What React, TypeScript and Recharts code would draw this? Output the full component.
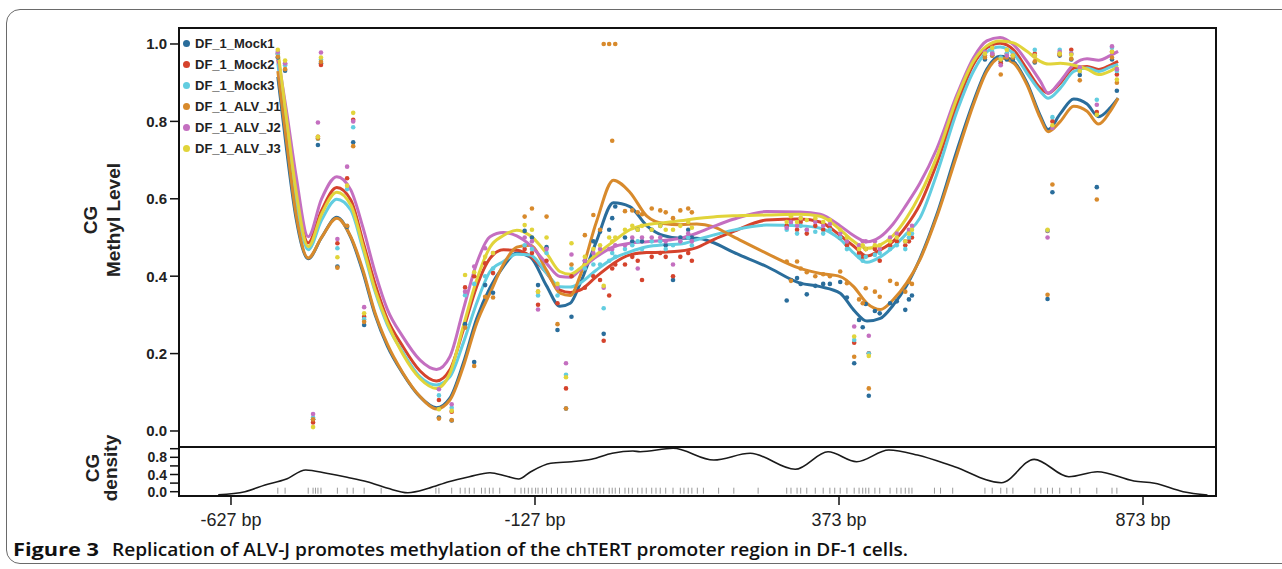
import React from "react";
import { ComposedChart, Line, Scatter, XAxis, YAxis } from "recharts";

// ---------- data ----------
const seriesNames = ["DF_1_Mock1", "DF_1_Mock2", "DF_1_Mock3", "DF_1_ALV_J1", "DF_1_ALV_J2", "DF_1_ALV_J3"];
const seriesKeys = ["mock1", "mock2", "mock3", "alv1", "alv2", "alv3"];
const seriesColors = ["#2a6d9b", "#d5432c", "#62cde0", "#d88a2c", "#c46fc0", "#e1d43a"];

// smoothed curve positions (bp)
const curveX = [-550, -535, -520, -500, -478, -453, -430, -410, -390, -370, -345, -316, -289, -267, -245, -223, -201, -179, -157, -135, -108, -86, -69, -53, -26, 2, 29, 57, 84, 112, 139, 166, 199, 254, 309, 342, 375, 397, 419, 441, 462, 484, 506, 534, 567, 594, 616, 638, 660, 682, 704, 717, 737, 759, 781, 800, 819, 832];
const curveMock1 = [0.915, 0.72, 0.55, 0.445, 0.5, 0.552, 0.5, 0.41, 0.3, 0.22, 0.15, 0.088, 0.06, 0.085, 0.175, 0.29, 0.37, 0.425, 0.46, 0.45, 0.375, 0.322, 0.33, 0.38, 0.49, 0.59, 0.58, 0.53, 0.505, 0.498, 0.498, 0.487, 0.462, 0.425, 0.382, 0.373, 0.356, 0.313, 0.284, 0.291, 0.325, 0.375, 0.445, 0.56, 0.725, 0.85, 0.935, 0.968, 0.955, 0.9, 0.815, 0.779, 0.82, 0.858, 0.845, 0.812, 0.835, 0.86];
const curveMock2 = [0.96, 0.79, 0.62, 0.486, 0.57, 0.629, 0.597, 0.49, 0.38, 0.29, 0.22, 0.155, 0.129, 0.158, 0.261, 0.373, 0.446, 0.468, 0.467, 0.452, 0.408, 0.364, 0.358, 0.364, 0.399, 0.433, 0.455, 0.461, 0.462, 0.465, 0.474, 0.494, 0.515, 0.545, 0.548, 0.54, 0.505, 0.478, 0.452, 0.468, 0.49, 0.53, 0.585, 0.692, 0.843, 0.947, 0.99, 1.002, 0.985, 0.935, 0.886, 0.873, 0.899, 0.938, 0.942, 0.934, 0.945, 0.955];
const curveMock3 = [0.95, 0.77, 0.6, 0.468, 0.545, 0.599, 0.571, 0.47, 0.36, 0.275, 0.205, 0.14, 0.119, 0.14, 0.227, 0.33, 0.412, 0.438, 0.457, 0.455, 0.408, 0.373, 0.372, 0.382, 0.416, 0.446, 0.463, 0.476, 0.481, 0.483, 0.494, 0.506, 0.519, 0.532, 0.53, 0.524, 0.495, 0.46, 0.436, 0.45, 0.475, 0.51, 0.55, 0.665, 0.826, 0.929, 0.98, 0.992, 0.975, 0.925, 0.878, 0.86, 0.886, 0.929, 0.938, 0.929, 0.94, 0.947];
const curveAlv1 = [0.93, 0.74, 0.56, 0.447, 0.5, 0.55, 0.502, 0.416, 0.305, 0.225, 0.152, 0.089, 0.057, 0.08, 0.166, 0.278, 0.356, 0.43, 0.475, 0.48, 0.415, 0.356, 0.35, 0.4, 0.54, 0.648, 0.617, 0.555, 0.536, 0.533, 0.535, 0.528, 0.502, 0.459, 0.42, 0.407, 0.399, 0.373, 0.33, 0.314, 0.339, 0.382, 0.442, 0.554, 0.714, 0.843, 0.929, 0.964, 0.951, 0.895, 0.809, 0.773, 0.8, 0.839, 0.826, 0.793, 0.826, 0.86];
const curveAlv2 = [0.97, 0.82, 0.66, 0.502, 0.6, 0.657, 0.623, 0.526, 0.41, 0.315, 0.245, 0.183, 0.159, 0.192, 0.313, 0.433, 0.502, 0.513, 0.504, 0.48, 0.433, 0.399, 0.397, 0.416, 0.45, 0.476, 0.485, 0.489, 0.492, 0.498, 0.511, 0.528, 0.547, 0.567, 0.566, 0.56, 0.53, 0.505, 0.489, 0.502, 0.535, 0.585, 0.64, 0.73, 0.869, 0.964, 1.008, 1.017, 0.998, 0.955, 0.904, 0.873, 0.904, 0.947, 0.962, 0.958, 0.97, 0.981];
const curveAlv3 = [0.985, 0.8, 0.62, 0.476, 0.56, 0.617, 0.584, 0.478, 0.365, 0.28, 0.2, 0.135, 0.11, 0.149, 0.27, 0.39, 0.475, 0.505, 0.519, 0.505, 0.459, 0.412, 0.405, 0.42, 0.456, 0.49, 0.52, 0.533, 0.538, 0.543, 0.549, 0.553, 0.556, 0.558, 0.56, 0.555, 0.52, 0.49, 0.472, 0.481, 0.505, 0.55, 0.61, 0.709, 0.86, 0.955, 0.995, 1.008, 1.003, 0.981, 0.955, 0.948, 0.95, 0.945, 0.935, 0.921, 0.93, 0.942];

// per-CpG methylation dots (bp)
const cpgX = [-550, -538, -492, -484, -479, -452, -436, -426, -408, -285, -264, -242, -227, -209, -196, -144, -132, -122, -108, -90, -76, -67, -45, -31, -20, -14, -5, 0, 5, 21, 33, 42, 49, 65, 79, 88, 100, 112, 125, 131, 287, 294, 304, 310, 320, 334, 347, 358, 375, 386, 398, 406, 412, 417, 422, 432, 440, 457, 468, 482, 488, 493, 613, 625, 639, 649, 659, 695, 716, 724, 736, 755, 769, 797, 822, 830];
const dotsMock1 = [0.965, 0.931, 0.03, 0.739, 0.95, 0.425, 0.528, 0.746, 0.274, 0.035, 0.027, 0.276, 0.178, 0.377, 0.357, 0.517, 0.5, 0.377, 0.475, 0.261, 0.058, 0.295, 0.44, 0.49, 0.515, 0.251, 0.52, 0.55, 0.58, 0.5, 0.49, 0.52, 0.49, 0.52, 0.53, 0.48, 0.39, 0.5, 0.52, 0.5, 0.337, 0.39, 0.395, 0.38, 0.353, 0.375, 0.38, 0.38, 0.385, 0.345, 0.175, 0.287, 0.268, 0.328, 0.091, 0.31, 0.304, 0.33, 0.335, 0.313, 0.34, 0.35, 0.96, 0.97, 0.955, 0.96, 0.96, 0.952, 0.341, 0.617, 0.97, 0.96, 0.92, 0.63, 0.96, 0.879];
const dotsMock2 = [0.975, 0.948, 0.022, 0.76, 0.946, 0.485, 0.653, 0.804, 0.295, 0.08, 0.05, 0.371, 0.4, 0.433, 0.408, 0.47, 0.46, 0.326, 0.44, 0.33, 0.11, 0.4, 0.37, 0.4, 0.39, 0.233, 0.35, 0.42, 0.43, 0.43, 0.45, 0.44, 0.39, 0.45, 0.46, 0.45, 0.4, 0.45, 0.46, 0.44, 0.53, 0.545, 0.52, 0.54, 0.51, 0.53, 0.52, 0.525, 0.5, 0.48, 0.228, 0.46, 0.45, 0.47, 0.201, 0.47, 0.44, 0.48, 0.49, 0.48, 0.49, 0.5, 0.97, 0.975, 0.95, 0.975, 0.97, 0.975, 0.517, 0.8, 0.975, 0.985, 0.93, 0.824, 0.98, 0.921];
const dotsMock3 = [0.975, 0.945, 0.035, 0.755, 0.96, 0.472, 0.625, 0.785, 0.289, 0.092, 0.06, 0.351, 0.38, 0.4, 0.42, 0.48, 0.47, 0.35, 0.46, 0.35, 0.145, 0.42, 0.42, 0.43, 0.43, 0.317, 0.44, 0.46, 0.45, 0.47, 0.48, 0.49, 0.47, 0.49, 0.49, 0.47, 0.48, 0.49, 0.5, 0.48, 0.52, 0.535, 0.51, 0.53, 0.52, 0.515, 0.51, 0.52, 0.5, 0.47, 0.235, 0.45, 0.44, 0.45, 0.2, 0.455, 0.46, 0.47, 0.48, 0.47, 0.5, 0.51, 0.975, 0.98, 0.965, 0.975, 0.975, 0.985, 0.518, 0.811, 0.985, 0.975, 0.93, 0.856, 0.99, 0.93];
const dotsAlv1 = [0.967, 0.935, 0.03, 0.756, 0.954, 0.422, 0.53, 0.736, 0.282, 0.032, 0.028, 0.267, 0.168, 0.347, 0.345, 0.554, 0.575, 0.36, 0.554, 0.276, 0.058, 0.43, 0.506, 0.558, 0.52, 1.0, 1.0, 0.75, 1.0, 0.568, 0.57, 0.565, 0.56, 0.575, 0.57, 0.565, 0.55, 0.57, 0.575, 0.565, 0.438, 0.388, 0.438, 0.42, 0.41, 0.4, 0.405, 0.4, 0.412, 0.382, 0.192, 0.34, 0.33, 0.369, 0.11, 0.36, 0.347, 0.388, 0.38, 0.36, 0.385, 0.38, 0.965, 0.97, 0.921, 0.965, 0.965, 0.955, 0.352, 0.637, 0.972, 0.962, 0.906, 0.598, 0.965, 0.9];
const dotsAlv2 = [0.98, 0.95, 0.044, 0.797, 0.978, 0.496, 0.683, 0.8, 0.32, 0.108, 0.069, 0.36, 0.425, 0.472, 0.46, 0.5, 0.49, 0.314, 0.47, 0.37, 0.175, 0.456, 0.44, 0.46, 0.47, 0.37, 0.47, 0.47, 0.48, 0.48, 0.5, 0.42, 0.5, 0.5, 0.5, 0.49, 0.43, 0.49, 0.51, 0.49, 0.525, 0.54, 0.53, 0.55, 0.52, 0.54, 0.53, 0.535, 0.51, 0.49, 0.27, 0.48, 0.49, 0.49, 0.246, 0.49, 0.47, 0.5, 0.51, 0.49, 0.52, 0.53, 0.98, 0.975, 0.945, 0.97, 0.97, 0.97, 0.5, 0.783, 0.98, 0.975, 0.94, 0.843, 0.994, 0.935];
const dotsAlv3 = [0.985, 0.957, 0.01, 0.76, 0.965, 0.449, 0.634, 0.822, 0.304, 0.056, 0.052, 0.403, 0.41, 0.45, 0.46, 0.532, 0.52, 0.36, 0.5, 0.38, 0.139, 0.485, 0.45, 0.47, 0.48, 0.375, 0.5, 0.49, 0.5, 0.52, 0.53, 0.52, 0.53, 0.52, 0.53, 0.52, 0.52, 0.53, 0.54, 0.525, 0.54, 0.555, 0.54, 0.55, 0.545, 0.55, 0.54, 0.545, 0.52, 0.5, 0.244, 0.47, 0.48, 0.47, 0.194, 0.48, 0.48, 0.49, 0.5, 0.49, 0.51, 0.52, 0.975, 0.99, 0.96, 0.985, 0.97, 0.97, 0.52, 0.79, 0.975, 0.972, 0.93, 0.817, 0.98, 0.908];

// CG density panel
const densityX = [-648, -604, -571, -537, -504, -470, -436, -403, -369, -336, -302, -269, -235, -201, -175, -154, -134, -101, -67, -34, 0, 34, 46, 100, 167, 227, 301, 355, 402, 455, 502, 563, 640, 694, 751, 798, 858, 892, 939, 979];
const densityY = [-0.07, 0.0, 0.156, 0.288, 0.505, 0.428, 0.335, 0.233, 0.079, -0.023, 0.079, 0.233, 0.349, 0.442, 0.365, 0.295, 0.465, 0.66, 0.698, 0.753, 0.893, 0.947, 0.93, 1.01, 0.737, 0.893, 0.521, 0.93, 0.698, 0.97, 0.853, 0.581, 0.209, 0.753, 0.349, 0.465, 0.249, 0.195, 0.0, -0.077];
const rugX = [-550, -538, -500, -492, -488, -484, -479, -452, -436, -426, -408, -380, -290, -285, -264, -250, -242, -235, -227, -215, -209, -202, -196, -185, -160, -150, -144, -138, -132, -126, -122, -115, -108, -100, -90, -83, -76, -67, -60, -52, -45, -38, -31, -25, -20, -14, -5, 0, 5, 12, 21, 27, 33, 42, 49, 56, 65, 72, 79, 88, 100, 112, 118, 125, 131, 140, 150, 175, 200, 240, 287, 294, 304, 310, 320, 334, 347, 358, 366, 375, 386, 398, 406, 412, 417, 422, 432, 440, 457, 468, 475, 482, 488, 493, 530, 540, 560, 613, 625, 639, 649, 659, 695, 705, 716, 724, 736, 755, 769, 797, 822, 830];

const xTicks = [-627, -127, 373, 873];
const methylTicks = [0, 0.2, 0.4, 0.6, 0.8, 1.0];
const densityTicks = [0, 0.2, 0.4, 0.6, 0.8, 1.0];
const densityLabelled = [0, 0.4, 0.8];

const curveSeries = [curveMock1, curveMock2, curveMock3, curveAlv1, curveAlv2, curveAlv3];
const dotSeries = [dotsMock1, dotsMock2, dotsMock3, dotsAlv1, dotsAlv2, dotsAlv3];

const curveRows = curveX.map((x, i) => {
  const row: Record<string, number> = { x };
  seriesKeys.forEach((k, s) => (row[k] = curveSeries[s][i]));
  return row;
});
const dotRows = dotSeries.map((vals) => cpgX.map((x, i) => ({ x, y: vals[i] })));
const densityRows = densityX.map((x, i) => ({ x, d: densityY[i] }));
const rugRows = rugX.map((x) => ({ x, y: 0 }));

const X_DOMAIN: [number, number] = [-712.5, 991.4];
const FONT = "'Liberation Sans', Arial, Helvetica, sans-serif";
const CAPTION_FONT = "'Open Sans', 'Noto Sans', sans-serif";

const DensityTick = (props: any) => {
  const { x, y, payload } = props;
  const v = payload.value;
  if (!densityLabelled.some((t) => Math.abs(t - v) < 1e-6)) return null;
  return (
    <text x={x} y={y} dy="0.36em" textAnchor="end" fontFamily={FONT} fontWeight="bold" fontSize={14} fill="#222">
      {v.toFixed(1)}
    </text>
  );
};

export default function App() {
  return (
    <div style={{ position: "absolute", left: 0, top: 0, width: 1282, height: 569, overflow: "hidden", background: "#fff" }}>
      {/* outer rounded frame */}
      <div style={{ position: "absolute", left: 6, top: 9, width: 1320, height: 555, border: "1px solid #6a6a6a", borderRadius: 14, boxSizing: "border-box" }} />

      {/* methylation panel */}
      <div style={{ position: "absolute", left: 0, top: 0 }}>
        <ComposedChart width={1282} height={446} data={curveRows} margin={{ top: 28, right: 67, bottom: 0, left: 0 }}>
          <XAxis type="number" dataKey="x" domain={X_DOMAIN} hide allowDataOverflow />
          <YAxis
            type="number"
            domain={[-0.0388, 1.0413]}
            ticks={methylTicks}
            interval={0}
            width={179}
            allowDataOverflow
            axisLine={false}
            tickSize={9}
            tickMargin={3}
            tickLine={{ stroke: "#111", strokeWidth: 1.5 }}
            tickFormatter={(v: number) => v.toFixed(1)}
            tick={{ fontFamily: FONT, fontWeight: "bold", fontSize: 15, fill: "#222" }}
          />
          {seriesKeys.map((k, s) => (
            <Line key={k} dataKey={k} type="monotone" stroke={seriesColors[s]} strokeWidth={3} dot={false} isAnimationActive={false} />
          ))}
          {dotRows.map((rows, s) => (
            <Scatter
              key={"d" + s}
              data={rows}
              dataKey="y"
              isAnimationActive={false}
              shape={(p: any) => <circle cx={p.cx} cy={p.cy} r={2.3} fill={seriesColors[s]} />}
            />
          ))}
        </ComposedChart>
      </div>

      {/* density panel */}
      <div style={{ position: "absolute", left: 0, top: 0 }}>
        <ComposedChart width={1282} height={540} data={densityRows} margin={{ top: 446, right: 67, bottom: 14, left: 0 }}>
          <XAxis
            type="number"
            dataKey="x"
            domain={X_DOMAIN}
            ticks={xTicks}
            interval={0}
            allowDataOverflow
            height={30}
            axisLine={false}
            tickSize={9}
            tickMargin={8}
            tickLine={{ stroke: "#111", strokeWidth: 1.5 }}
            tickFormatter={(v: number) => `${v} bp`}
            tick={{ fontFamily: FONT, fontSize: 18, fill: "#222" }}
          />
          <YAxis
            type="number"
            domain={[-0.1, 1.063]}
            ticks={densityTicks}
            interval={0}
            width={179}
            allowDataOverflow
            axisLine={false}
            tickSize={9}
            tickMargin={3}
            tickLine={{ stroke: "#111", strokeWidth: 1.5 }}
            tick={<DensityTick />}
          />
          <Line dataKey="d" type="monotone" stroke="#1a1a1a" strokeWidth={1.6} dot={false} isAnimationActive={false} />
          <Scatter
            data={rugRows}
            dataKey="y"
            isAnimationActive={false}
            shape={(p: any) => <line x1={p.cx} x2={p.cx} y1={p.cy - 4} y2={p.cy + 2} stroke="#9a9a9a" strokeWidth={1} />}
          />
        </ComposedChart>
      </div>

      {/* panel frames */}
      <div style={{ position: "absolute", left: 178, top: 27, width: 1039, height: 421, border: "2px solid #111", boxSizing: "border-box" }} />
      <div style={{ position: "absolute", left: 178, top: 446, width: 1039, height: 51, border: "2px solid #111", boxSizing: "border-box" }} />

      {/* legend */}
      <div style={{ position: "absolute", left: 183, top: 33, fontFamily: FONT, fontWeight: "bold", fontSize: 13, color: "#222" }}>
        {seriesNames.map((n, s) => (
          <div key={n} style={{ display: "flex", alignItems: "center", height: 21 }}>
            <span style={{ width: 7, height: 7, borderRadius: "50%", background: seriesColors[s], display: "inline-block", marginRight: 5 }} />
            {n}
          </div>
        ))}
      </div>

      {/* axis titles and caption */}
      <svg width={1282} height={569} style={{ position: "absolute", left: 0, top: 0, pointerEvents: "none" }}>
        <g fontFamily={FONT} fontWeight="bold" fontSize={19} fill="#222" textAnchor="middle">
          <text transform="translate(97,220) rotate(-90)">CG</text>
          <text transform="translate(120,220) rotate(-90)">Methyl Level</text>
          <text transform="translate(99,468) rotate(-90)">CG</text>
          <text transform="translate(117,468) rotate(-90)">density</text>
        </g>
        <text x={13} y={556} fontFamily={CAPTION_FONT} fontSize={18} fontWeight={700} fill="#111" textLength={86} lengthAdjust="spacingAndGlyphs">
          Figure 3
        </text>
        <text x={112} y={556} fontFamily={CAPTION_FONT} fontSize={18} fontWeight={600} fill="#111" textLength={796} lengthAdjust="spacingAndGlyphs">
          Replication of ALV-J promotes methylation of the chTERT promoter region in DF-1 cells.
        </text>
      </svg>
    </div>
  );
}
